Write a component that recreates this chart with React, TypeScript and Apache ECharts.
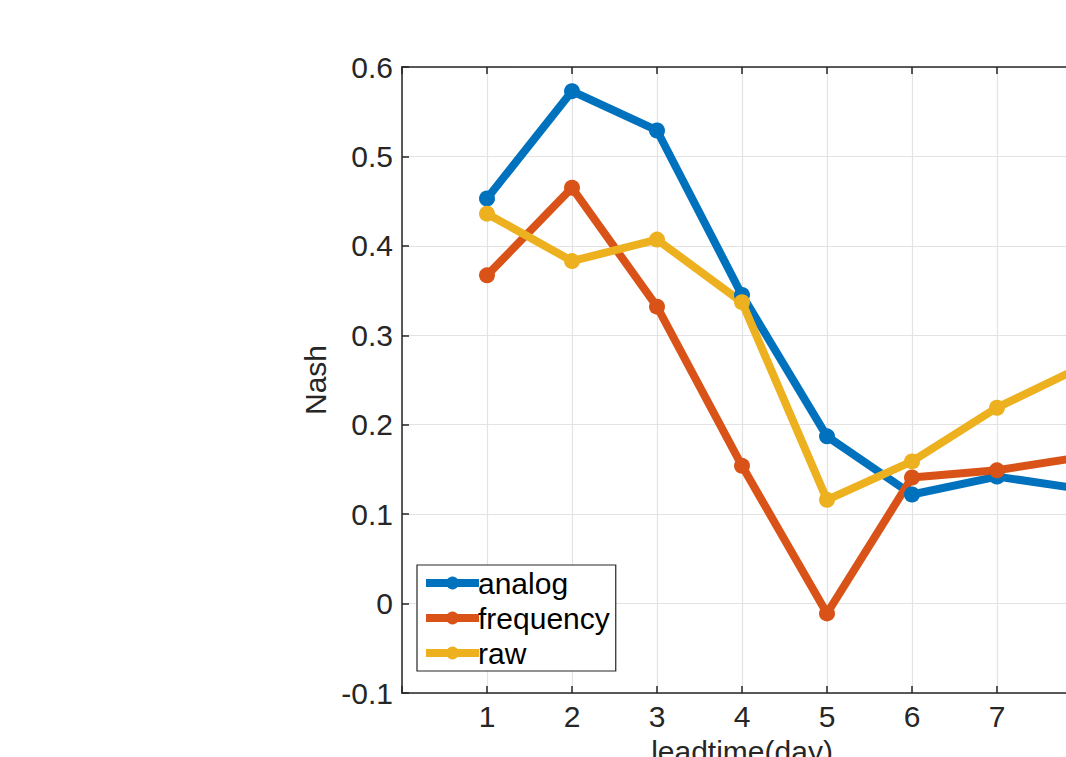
import React, { useEffect, useRef } from "react";
import * as echarts from "echarts";

const leadtimes = [1, 2, 3, 4, 5, 6, 7, 8];
const analog = [0.453, 0.573, 0.529, 0.345, 0.187, 0.122, 0.142, 0.128];
const frequency = [0.367, 0.465, 0.332, 0.154, -0.011, 0.141, 0.149, 0.164];
const raw = [0.436, 0.383, 0.407, 0.337, 0.116, 0.159, 0.219, 0.265];
const seriesNames = ["analog", "frequency", "raw"];
const colors = ["#0072BD", "#D95319", "#EDB120"];

const FONT = "Liberation Sans, Arial, Helvetica, sans-serif";
const TXT = "#262626";

export default function App() {
  const ref = useRef<HTMLDivElement>(null);
  useEffect(() => {
    if (!ref.current) return;
    const chart = echarts.init(ref.current, null, { renderer: "svg" });
    const values = [analog, frequency, raw];
    chart.setOption({
      animation: false,
      backgroundColor: "#ffffff",
      textStyle: { fontFamily: FONT },
      grid: {
        left: 402,
        top: 67,
        width: 680,
        height: 626,
        containLabel: false,
        outerBoundsMode: "none",
      },
      legend: {
        orient: "vertical",
        left: 417,
        top: 565,
        data: seriesNames,
        backgroundColor: "#ffffff",
        borderColor: TXT,
        borderWidth: 1.2,
        borderRadius: 0,
        padding: [3, 6, 3, 5],
        itemGap: 5,
        itemWidth: 53,
        itemHeight: 16,
        lineStyle: { width: 8 },
        textStyle: { fontSize: 30, color: "#000", fontFamily: FONT, padding: [0, 0, 0, -6] },
      },
      xAxis: [
        {
          type: "value",
          min: 0,
          max: 8,
          interval: 1,
          name: "leadtime(day)",
          nameLocation: "middle",
          nameGap: 43,
          nameTextStyle: { fontSize: 30, color: TXT, fontFamily: FONT },
          axisLine: { show: true, onZero: false, lineStyle: { color: TXT, width: 1.5 } },
          axisTick: { show: true, inside: true, length: 7, lineStyle: { color: TXT, width: 1.5 } },
          axisLabel: {
            fontSize: 30,
            color: TXT,
            margin: 8,
            fontFamily: FONT,
            formatter: (v: number) => (v === 0 ? "" : String(v)),
          },
          splitLine: { show: true, lineStyle: { color: "#e3e3e3", width: 1.2 } },
        },
        {
          type: "value",
          position: "top",
          min: 0,
          max: 8,
          interval: 1,
          axisLine: { show: true, onZero: false, lineStyle: { color: TXT, width: 1.5 } },
          axisTick: { show: true, inside: true, length: 7, lineStyle: { color: TXT, width: 1.5 } },
          axisLabel: { show: false },
          splitLine: { show: false },
        },
      ],
      yAxis: [
        {
          type: "value",
          min: -0.1,
          max: 0.6,
          interval: 0.1,
          name: "Nash",
          nameLocation: "middle",
          nameGap: 70,
          nameTextStyle: { fontSize: 30, color: TXT, fontFamily: FONT },
          axisLine: { show: true, onZero: false, lineStyle: { color: TXT, width: 1.5 } },
          axisTick: { show: true, inside: true, length: 7, lineStyle: { color: TXT, width: 1.5 } },
          axisLabel: {
            fontSize: 30,
            color: TXT,
            margin: 9,
            fontFamily: FONT,
            formatter: (v: number) => {
              const r = Math.round(v * 10) / 10;
              return r === 0 ? "0" : r.toFixed(1);
            },
          },
          splitLine: { show: true, lineStyle: { color: "#e3e3e3", width: 1.2 } },
        },
      ],
      series: seriesNames.map((name, i) => ({
        name,
        type: "line",
        data: leadtimes.map((x, j) => [x, values[i][j]]),
        symbol: "circle",
        symbolSize: 16,
        color: colors[i],
        lineStyle: { width: 8, color: colors[i] },
        itemStyle: { color: colors[i] },
        emphasis: { disabled: true },
        clip: true,
      })),
    });
    return () => chart.dispose();
  }, []);
  return (
    <div
      ref={ref}
      style={{ position: "fixed", left: 0, top: 0, width: 1066, height: 757, background: "#fff" }}
    />
  );
}
